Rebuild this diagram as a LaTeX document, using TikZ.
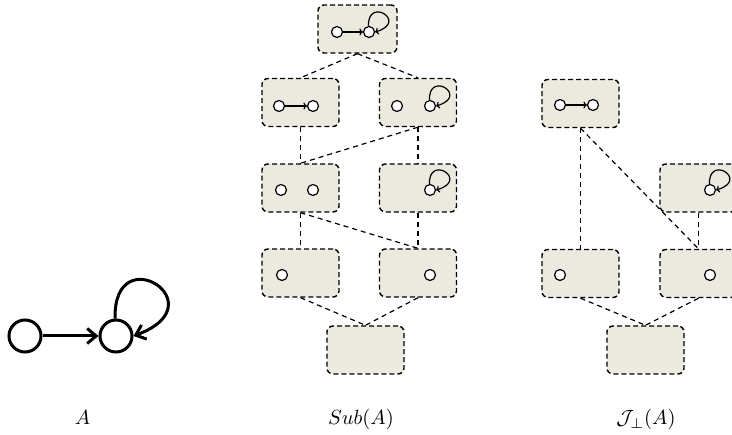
\documentclass[tikz,border=0pt]{standalone}
\usepackage{graphicx}
\usetikzlibrary{arrows.meta}
\definecolor{boxfill}{RGB}{236,233,223}
\begin{document}
\begin{tikzpicture}[x=1pt,y=1pt,
  sbox/.style={draw=black, dash pattern=on 5pt off 3pt, rounded corners=6pt, fill=boxfill, line width=1.4pt, minimum width=77pt, minimum height=48pt, inner sep=0pt},
  vtx/.style={circle, draw, fill=white, line width=1.2pt, minimum size=11pt, inner sep=0pt},
  bigvtx/.style={circle, draw, fill=white, line width=3pt, minimum size=32pt, inner sep=0pt},
  hasse/.style={dash pattern=on 5pt off 4pt, line width=1.2pt, draw=black},
  sarr/.style={-{To[length=3.5pt,width=7pt]}, line width=1.2pt},
  barr/.style={-{Straight Barb[length=9pt,width=15pt]}, line width=3pt},
  lab/.style={anchor=base, inner sep=0pt}]
\clip (0,0) rectangle (732,-435);

% graph A
\node[bigvtx] (a1) at (25,-336) {};
\node[bigvtx] (a2) at (116,-336) {};
\draw[barr] (a1) -- (a2);
\draw[barr] (a2.93) .. controls +(-2,82) and +(86,32) .. (a2.east);

% Sub(A) boxes
\node[sbox, minimum width=79pt] (s0) at (357.5,-29) {};
\node[sbox] (s1l) at (300.5,-102.5) {};
\node[sbox] (s1r) at (418,-102.5) {};
\node[sbox] (s2l) at (300.5,-188) {};
\node[sbox] (s2r) at (418,-188) {};
\node[sbox] (s3l) at (300.5,-273) {};
\node[sbox] (s3r) at (418,-273) {};
\node[sbox] (s4) at (365.5,-350) {};

% J boxes
\node[sbox] (j1) at (580.5,-103.5) {};
\node[sbox] (j2r) at (698.5,-188) {};
\node[sbox] (j3l) at (580.5,-273.5) {};
\node[sbox] (j3r) at (698.5,-273.5) {};
\node[sbox] (j4) at (645.5,-350) {};

% Hasse edges Sub(A)
\draw[hasse] (s0.south) -- (s1l.north);
\draw[hasse] (s0.south) -- (s1r.north);
\draw[hasse] (s1l.south) -- (s2l.north);
\draw[hasse] (s1r.south) -- (s2l.north);
\draw[hasse] (s1r.south) -- (s2r.north);
\draw[hasse] (s2l.south) -- (s3l.north);
\draw[hasse] (s2l.south) -- (s3r.north);
\draw[hasse] (s2r.south) -- (s3r.north);
\draw[hasse] (s3l.south) -- (s4.north);
\draw[hasse] (s3r.south) -- (s4.north);

% Hasse edges J
\draw[hasse] (j1.south) -- (j3l.north);
\draw[hasse] (j1.south) -- (j3r.north);
\draw[hasse] (j2r.south) -- (j3r.north);
\draw[hasse] (j3l.south) -- (j4.north);
\draw[hasse] (j3r.south) -- (j4.north);

% small graphs
\node[vtx] (s0a) at (337,-32) {};
\node[vtx] (s0b) at (369,-32) {};
\draw[sarr] (s0a) -- (s0b);
\draw[sarr] (s0b.95) .. controls +(-1,30) and +(34,10) .. (s0b.east);

\node[vtx] (s1la) at (279,-106) {};
\node[vtx] (s1lb) at (313,-106) {};
\draw[sarr] (s1la) -- (s1lb);

\node[vtx] (s1ra) at (397,-106) {};
\node[vtx] (s1rb) at (430,-106) {};
\draw[sarr] (s1rb.95) .. controls +(-1,30) and +(34,10) .. (s1rb.east);

\node[vtx] (s2la) at (281,-190) {};
\node[vtx] (s2lb) at (313,-190) {};

\node[vtx] (s2rb) at (430,-190) {};
\draw[sarr] (s2rb.95) .. controls +(-1,30) and +(34,10) .. (s2rb.east);

\node[vtx] (s3la) at (282,-275) {};
\node[vtx] (s3rb) at (430,-275) {};

\node[vtx] (j1a) at (560,-105) {};
\node[vtx] (j1b) at (593,-105) {};
\draw[sarr] (j1a) -- (j1b);

\node[vtx] (j2rb) at (710,-190) {};
\draw[sarr] (j2rb.95) .. controls +(-1,30) and +(34,10) .. (j2rb.east);

\node[vtx] (j3la) at (560,-275) {};
\node[vtx] (j3rb) at (710,-275) {};

% labels
\node[lab] (la) at (82.5,-425) {\scalebox{2.05}{$A$}};
\node[lab] (ls) at (361,-425) {\scalebox{2.05}{$Sub(A)$}};
\node[lab] (lj) at (646,-425) {\scalebox{2.05}{$\mathcal{J}_\perp(A)$}};
\end{tikzpicture}
\end{document}
